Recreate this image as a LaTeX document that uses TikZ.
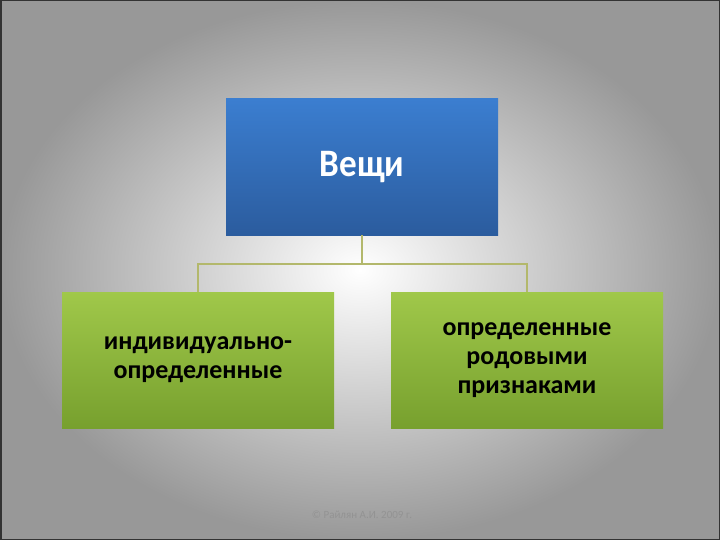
\documentclass[tikz,border=0pt]{standalone}
\usepackage{fontspec}
\setmainfont{Carlito}
\usepackage{tikz}
\usetikzlibrary{arrows.meta}

\definecolor{bluetop}{HTML}{3B7ED0}
\definecolor{bluebot}{HTML}{2B5C9E}
\definecolor{greentop}{HTML}{A0C84A}
\definecolor{greenbot}{HTML}{77A02E}
\definecolor{linkcol}{HTML}{B3B86C}
\definecolor{bggray}{HTML}{989898}

\begin{document}
\begin{tikzpicture}[x=1pt,y=-1pt]
		% slide background
		\useasboundingbox (0,0) rectangle (720,540);
		\shade[inner color=white,outer color=bggray] (0,0) rectangle (720,540);
		\draw[line width=1.5pt,black!80] (0.75,0.75) rectangle (719.25,539.25);

		\begin{scope}[every node/.style={rectangle,minimum width=272,minimum height=136,inner sep=0,outer sep=0,align=center,font=\bfseries}]
		    \node[top color=bluetop,bottom color=bluebot,text=white,font=\bfseries\fontsize{37}{40}\selectfont] (1) at (362,167) {\scalebox{0.95}[1.05]{Вещи}};
		    \node[top color=greentop,bottom color=greenbot,font=\bfseries\fontsize{26}{29}\selectfont] (2) at (198,360) {индивидуально-\\определенные};
		    \node[top color=greentop,bottom color=greenbot,font=\bfseries\fontsize{26}{29}\selectfont] (3) at (527,360) {определенные\\родовыми\\признаками};
		\end{scope}

		\begin{scope}[every path/.style={draw=linkcol,line width=2pt}]
		    \coordinate (mid) at (362,264);
		    \draw (1.south) -- (mid);
		    \draw (mid) -| (2.north);
		    \draw (mid) -| (3.north);
		\end{scope}

		\node[text=gray!85,font=\fontsize{11}{13}\selectfont] (copy) at (362,515) {© Райлян А.И. 2009 г.};
\end{tikzpicture}
\end{document}
